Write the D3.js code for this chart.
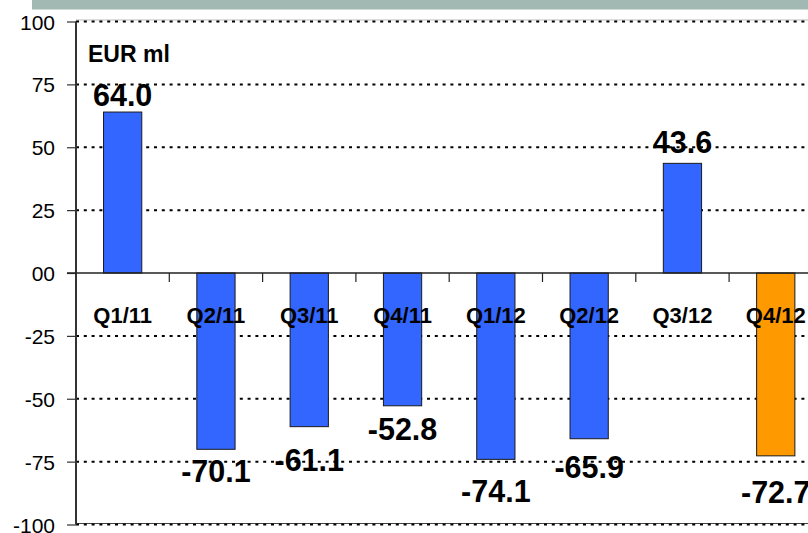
<!DOCTYPE html>
<html>
<head>
<meta charset="utf-8">
<script src="https://cdn.jsdelivr.net/npm/d3@7"></script>
<style>
  html, body { margin: 0; padding: 0; background: #fff; overflow: hidden; }
  svg { display: block; font-family: "Liberation Sans", Arial, sans-serif; }
</style>
</head>
<body>
<svg id="chart" width="808" height="533"></svg>
<script>
// Quarterly result, EUR ml
const categories = ["Q1/11", "Q2/11", "Q3/11", "Q4/11", "Q1/12", "Q2/12", "Q3/12", "Q4/12"];
const values = [64.0, -70.1, -61.1, -52.8, -74.1, -65.9, 43.6, -72.7];
const estimatedQuarters = ["Q4/12"];
const yTickValues = [100, 75, 50, 25, 0, -25, -50, -75, -100];
const yTickLabels = ["100", "75", "50", "25", "00", "-25", "-50", "-75", "-100"];
const unitLabel = "EUR ml";

// Distance in px between each value label's baseline and its bar end
const labelOffsets = [6, 33, 44, 34, 43, 39, 10, 47];

const W = 808, H = 533;
const plot = { left: 76, right: 822.4, top: 21.5, bottom: 524.5 };

const svg = d3.select("#chart");

const y = d3.scaleLinear().domain([-100, 100]).range([plot.bottom, plot.top]);
const x = d3.scaleBand().domain(categories).range([plot.left, plot.right]).padding(0);
const barW = x.bandwidth() * 0.41;

// Header band
svg.append("rect")
  .attr("x", 32).attr("y", 0).attr("width", W - 32).attr("height", 9.5)
  .attr("fill", "#a2b8b2");

// Plot frame lines (top / bottom)
svg.append("line")
  .attr("x1", plot.left).attr("x2", W).attr("y1", plot.top - 1.5).attr("y2", plot.top - 1.5)
  .attr("stroke", "#bbb").attr("stroke-width", 1);
svg.append("line")
  .attr("x1", plot.left).attr("x2", W).attr("y1", plot.bottom - 1).attr("y2", plot.bottom - 1)
  .attr("stroke", "#444").attr("stroke-width", 1);

// Dotted gridlines
svg.append("g")
  .selectAll("line")
  .data(yTickValues.filter(v => v !== 0))
  .join("line")
  .attr("x1", plot.left).attr("x2", W)
  .attr("y1", d => y(d)).attr("y2", d => y(d))
  .attr("stroke", "#000").attr("stroke-width", 2)
  .attr("stroke-dasharray", "3,4.8");

// Y axis
const yAxis = d3.axisLeft(y)
  .tickValues(yTickValues)
  .tickSize(9)
  .tickPadding(12)
  .tickFormat((d, i) => yTickLabels[i]);
const yg = svg.append("g")
  .attr("transform", `translate(${plot.left},0)`)
  .call(yAxis);
yg.select(".domain").attr("stroke", "#333").attr("stroke-width", 2)
  .attr("d", `M0,${plot.top}V${plot.bottom}`);
yg.selectAll(".tick line").attr("stroke", "#333").attr("stroke-width", 1.2);
yg.selectAll(".tick text")
  .attr("font-family", "Liberation Sans, Arial, sans-serif")
  .attr("font-size", 21)
  .attr("fill", "#000")
  .attr("dy", "0.36em");

// Bars
svg.append("g")
  .selectAll("rect")
  .data(values)
  .join("rect")
  .attr("x", (d, i) => x(categories[i]) + (x.bandwidth() - barW) / 2)
  .attr("y", d => y(Math.max(0, d)))
  .attr("width", barW)
  .attr("height", d => Math.abs(y(d) - y(0)))
  .attr("fill", (d, i) => estimatedQuarters.includes(categories[i]) ? "#ff9900" : "#3366ff")
  .attr("stroke", "#1a1a1a").attr("stroke-width", 1);

// Zero axis with category separators
const xAxis = d3.axisBottom(x).tickSize(0).tickFormat("");
const xg = svg.append("g")
  .attr("transform", `translate(0,${y(0)})`)
  .call(xAxis);
xg.select(".domain").remove();
svg.append("line")
  .attr("x1", plot.left - 9).attr("x2", W)
  .attr("y1", y(0)).attr("y2", y(0))
  .attr("stroke", "#222").attr("stroke-width", 1.5);
svg.append("g")
  .selectAll("line")
  .data(categories.slice(1))
  .join("line")
  .attr("x1", d => x(d)).attr("x2", d => x(d))
  .attr("y1", y(0)).attr("y2", y(0) + 9)
  .attr("stroke", "#222").attr("stroke-width", 1.2);

// Category labels
svg.append("g")
  .selectAll("text")
  .data(categories)
  .join("text")
  .attr("x", d => x(d) + x.bandwidth() / 2)
  .attr("y", y(0) + 50)
  .attr("text-anchor", "middle")
  .attr("font-size", 22)
  .attr("font-weight", "bold")
  .attr("fill", "#000")
  .text(d => d);

// Value labels
svg.append("g")
  .selectAll("text")
  .data(values)
  .join("text")
  .attr("x", (d, i) => x(categories[i]) + x.bandwidth() / 2)
  .attr("y", (d, i) => d >= 0 ? y(d) - labelOffsets[i] : y(d) + labelOffsets[i])
  .attr("text-anchor", "middle")
  .attr("font-size", 30.5)
  .attr("font-weight", "bold")
  .attr("fill", "#000")
  .text(d => d.toFixed(1));

// Unit label
svg.append("text")
  .attr("x", 88).attr("y", 62)
  .attr("font-size", 23)
  .attr("font-weight", "bold")
  .attr("fill", "#000")
  .text(unitLabel);
</script>
</body>
</html>
